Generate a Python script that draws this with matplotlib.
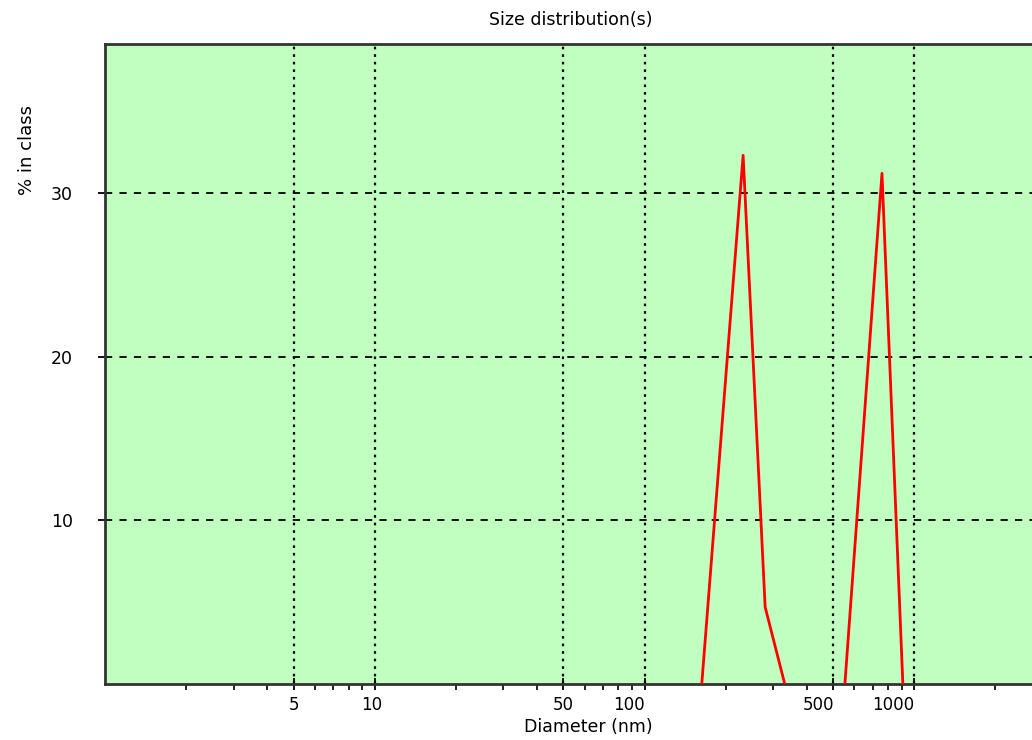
import matplotlib
matplotlib.use("Agg")
import matplotlib.pyplot as plt
from matplotlib.ticker import FixedLocator, NullFormatter
from matplotlib.transforms import ScaledTranslation
import numpy as np

# Data
peak1_diam = [163, 232, 280, 331]
peak1_pct = [0.0, 32.3, 4.7, 0.0]
peak2_diam = [553, 759, 907]
peak2_pct = [0.0, 31.2, 0.0]

x_ticks = [5, 10, 50, 100, 500, 1000]
x_tick_labels = ["5", "10", "50", "100", "500", "1000"]
y_ticks = [10, 20, 30]
y_tick_labels = ["10", "20", "30"]
minor_x = [2, 3, 4, 6, 7, 8, 9, 20, 30, 40, 60, 70, 80, 90,
           200, 300, 400, 600, 700, 800, 900, 2000]

W, H = 1032, 740
fig = plt.figure(figsize=(W / 100, H / 100), dpi=100)
fig.patch.set_facecolor("white")

left, right, bottom, top = 105, 1043, 684, 44
ax = fig.add_axes([left / W, (H - bottom) / H, (right - left) / W, (bottom - top) / H])
ax.set_facecolor("#C0FFC0")
ax.set_xscale("log")
ax.set_xlim(1, 3000)
ax.set_ylim(0, 39.1)

ax.plot(peak1_diam, peak1_pct, color="#FF0000", lw=2.0, zorder=3)
ax.plot(peak2_diam, peak2_pct, color="#FF0000", lw=2.0, zorder=3)

# grid lines
for xv in x_ticks:
    ax.axvline(xv, color="black", lw=1.6, ls=(0, (1.2, 2.2)), zorder=2)
for yv in y_ticks:
    ax.axhline(yv, color="black", lw=1.3, ls=(0, (4, 4)), zorder=2)

ax.xaxis.set_major_locator(FixedLocator(x_ticks))
ax.set_xticklabels(x_tick_labels)
ax.xaxis.set_minor_locator(FixedLocator(minor_x))
ax.xaxis.set_minor_formatter(NullFormatter())
ax.set_yticks(y_ticks)
ax.set_yticklabels(y_tick_labels)

ax.tick_params(axis="x", which="major", direction="inout", length=8, width=1.3,
               labelsize=12, pad=5, colors="black")
ax.tick_params(axis="x", which="minor", direction="out", length=4, width=1.2)
ax.tick_params(axis="y", which="major", direction="out", length=5, width=1.3,
               labelsize=12.5, pad=18)
ax.tick_params(axis="y", which="minor", length=0)

# shift some x tick labels left as in the reference
shifts_px = [0, -3, 0, -16, -15, -21]
for lbl, dx in zip(ax.get_xticklabels(), shifts_px):
    lbl.set_transform(lbl.get_transform() + ScaledTranslation(dx / 100, 0, fig.dpi_scale_trans))

for s in ["top", "left", "bottom"]:
    ax.spines[s].set_color("#333333")
    ax.spines[s].set_linewidth(2)
ax.spines["right"].set_visible(False)

fig.text(571 / W, 1 - 20 / H, "Size distribution(s)", ha="center", va="center",
         fontsize=12.5, color="black")
fig.text(588 / W, 1 - 727 / H, "Diameter (nm)", ha="center", va="center",
         fontsize=12.5, color="black")
fig.text(27 / W, 1 - 150 / H, "% in class", ha="center", va="center",
         rotation=90, fontsize=13, color="black")

fig.savefig("out.png", dpi=100, facecolor="white")
